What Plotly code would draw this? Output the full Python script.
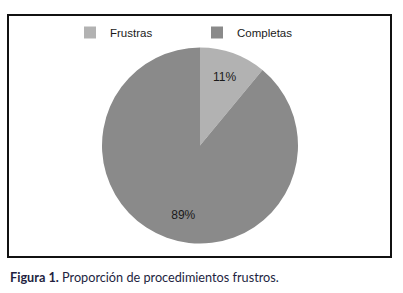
import plotly.graph_objects as go

labels = ["Frustras", "Completas"]
values = [11, 89]
colors = ["#b2b2b2", "#8a8a8a"]
caption_bold = "Figura 1."
caption_rest = " Proporción de procedimientos frustros."

W, H = 403, 293

fig = go.Figure(go.Pie(
    labels=labels,
    values=values,
    sort=False,
    direction="clockwise",
    rotation=0,
    marker=dict(colors=colors, line=dict(width=0)),
    textinfo="percent",
    texttemplate=["%{percent:.0%}", "\u00a0<br>\u00a0<br>\u00a0<br>%{percent:.0%}"],
    textposition="inside",
    insidetextorientation="horizontal",
    textfont=dict(family="Liberation Sans, Arial", size=12, color="#1a1a1a"),
    domain=dict(x=[102 / W, 298 / W], y=[(H - 244) / H, (H - 47) / H]),
    hoverinfo="label+percent",
))

fig.update_layout(
    width=W, height=H,
    margin=dict(l=0, r=0, t=0, b=0),
    paper_bgcolor="white",
    plot_bgcolor="white",
    showlegend=True,
    legend=dict(
        orientation="h",
        x=70 / W, xanchor="left",
        y=1 - 18 / H, yanchor="top",
        entrywidth=82, entrywidthmode="pixels",
        font=dict(family="Liberation Sans, Arial", size=11.5, color="#1a1a1a"),
        bgcolor="rgba(0,0,0,0)",
        borderwidth=0,
        traceorder="normal",
        itemclick=False,
    ),
    shapes=[dict(
        type="rect", xref="paper", yref="paper",
        x0=8 / W, x1=391 / W, y0=1 - 257 / H, y1=1 - 15 / H,
        line=dict(color="#111111", width=2), fillcolor="rgba(0,0,0,0)",
        layer="below",
    )],
    annotations=[dict(
        xref="paper", yref="paper",
        x=8 / W, y=1 - 277 / H, xanchor="left", yanchor="middle",
        text="<b>" + caption_bold + "</b>" + caption_rest,
        showarrow=False,
        font=dict(family="Lato, Open Sans", size=12.7, color="#231f3f"),
    )],
)

fig.write_html(
    "out.html",
    config={"displayModeBar": False},
    post_script="document.body.style.margin='0';document.body.style.overflow='hidden';",
)
